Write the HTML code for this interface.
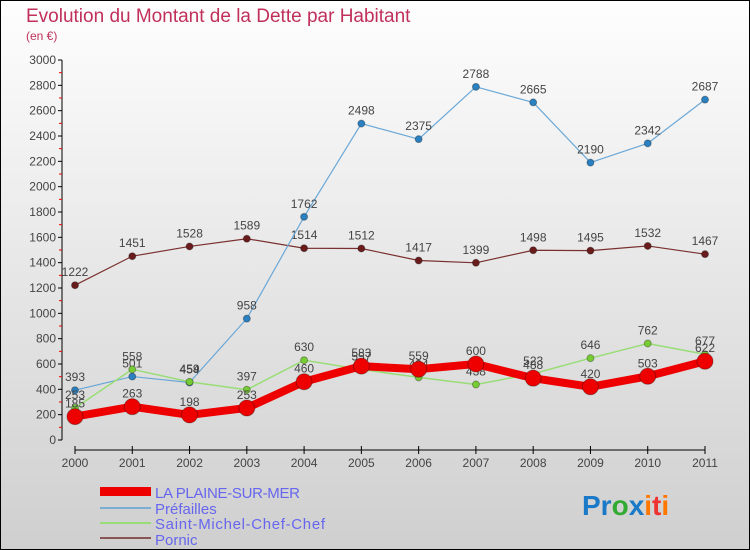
<!DOCTYPE html>
<html><head><meta charset="utf-8"><style>
body{margin:0;width:750px;height:550px;overflow:hidden}
svg{display:block;font-family:"Liberation Sans",sans-serif}
</style></head><body>
<svg id="c" width="750" height="550">
<defs><linearGradient id="bg" x1="0" y1="0" x2="0" y2="1"><stop offset="0" stop-color="#fefefe"/><stop offset="1" stop-color="#cfcfcf"/></linearGradient></defs>
<rect x="0.5" y="0.5" width="749" height="549" fill="url(#bg)" stroke="#000"/>
<text x="26" y="22" font-size="19" fill="#c0305a">Evolution du Montant de la Dette par Habitant</text>
<text x="26" y="40" font-size="12" fill="#c0305a">(en €)</text>
<g id="axes"></g><g id="series"></g>
<g>
<rect x="100" y="487" width="51" height="9" fill="#e00"/>
<text x="155" y="498" font-size="15" fill="#6666ee" textLength="145">LA PLAINE-SUR-MER</text>
<rect x="100" y="507" width="51" height="2" fill="#7aaed0"/>
<text x="155" y="514" font-size="15" fill="#6666ee">Préfailles</text>
<rect x="100" y="522" width="51" height="2" fill="#99dd77"/>
<text x="155" y="529" font-size="15" fill="#6666ee" textLength="170">Saint-Michel-Chef-Chef</text>
<rect x="100" y="537" width="51" height="2" fill="#8a5555"/>
<text x="155" y="545" font-size="15" fill="#6666ee">Pornic</text>
</g>
<text x="582" y="515" font-size="28" font-weight="bold"><tspan fill="#1a7ac8">Pr</tspan><tspan fill="#3a3">o</tspan><tspan fill="#1a7ac8">x</tspan><tspan fill="#f70">i</tspan><tspan fill="#e33">t</tspan><tspan fill="#f70">i</tspan></text>
</svg>
<script>
const years=["2000","2001","2002","2003","2004","2005","2006","2007","2008","2009","2010","2011"];
const yTicks=[0,200,400,600,800,1000,1200,1400,1600,1800,2000,2200,2400,2600,2800,3000];
const laPlaine=[185,263,198,253,460,583,559,600,488,420,503,622];
const prefailles=[393,501,454,958,1762,2498,2375,2788,2665,2190,2342,2687];
const saintMichel=[253,558,459,397,630,557,494,438,523,646,762,677];
const pornic=[1222,1451,1528,1589,1514,1512,1417,1399,1498,1495,1532,1467];
const NS="http://www.w3.org/2000/svg";
function xs(i){return 75+i*(705-75)/(years.length-1);}
function ys(v){return 440-v*380/3000;}
function mk(t,a,p){const e=document.createElementNS(NS,t);for(const k in a)e.setAttribute(k,a[k]);p.appendChild(e);return e;}
const ax=document.getElementById('axes');
let yl=mk('line',{x1:62,y1:60,x2:62,y2:440,stroke:'#000'},ax);


yTicks.forEach(v=>{
 mk('line',{x1:58,x2:62,y1:ys(v),y2:ys(v),stroke:'#000'},ax);
 if(v<3000)mk('line',{x1:59,x2:62,y1:ys(v+100),y2:ys(v+100),stroke:'#e00'},ax);
 const t=mk('text',{x:56,y:ys(v)+4,'font-size':12,fill:'#444','text-anchor':'end'},ax);t.textContent=v;
 
 
});
let xl=mk('line',{x1:75,y1:450,x2:705,y2:450,stroke:'#000'},ax);


years.forEach((y,i)=>{
 mk('line',{x1:xs(i),x2:xs(i),y1:446,y2:454,stroke:'#000'},ax);
 const t=mk('text',{x:xs(i),y:467,'font-size':12,fill:'#444','text-anchor':'middle'},ax);t.textContent=y;
 
 
});
const sg=document.getElementById('series');
function draw(vals,name,color,w,r,fill){
 const g=mk('g',{},sg);
 
 
 mk('polyline',{points:vals.map((v,i)=>xs(i)+','+ys(v)).join(' '),fill:'none',stroke:color,'stroke-width':w,'stroke-linejoin':'round'},g);
 vals.forEach((v,i)=>{
  const c=mk('circle',{cx:xs(i),cy:ys(v),r:r,fill:fill,stroke:'rgba(0,0,0,0.3)'},g);
  
  
  const t=mk('text',{x:xs(i),y:ys(v)-9,'font-size':12,fill:'#444','text-anchor':'middle'},g);t.textContent=v;
  
  
 });
}
draw(pornic,'pornic','#7a3030',1.2,3.5,'#6a1c1c');
draw(prefailles,'prefailles','#6aa8d8',1.2,3.5,'#2a80c0');
draw(saintMichel,'saint-michel','#99dd77',1.5,3.5,'#77cc33');
draw(laPlaine,'la-plaine','#ee0000',8,8,'#ee0000');
</script>
</body></html>
